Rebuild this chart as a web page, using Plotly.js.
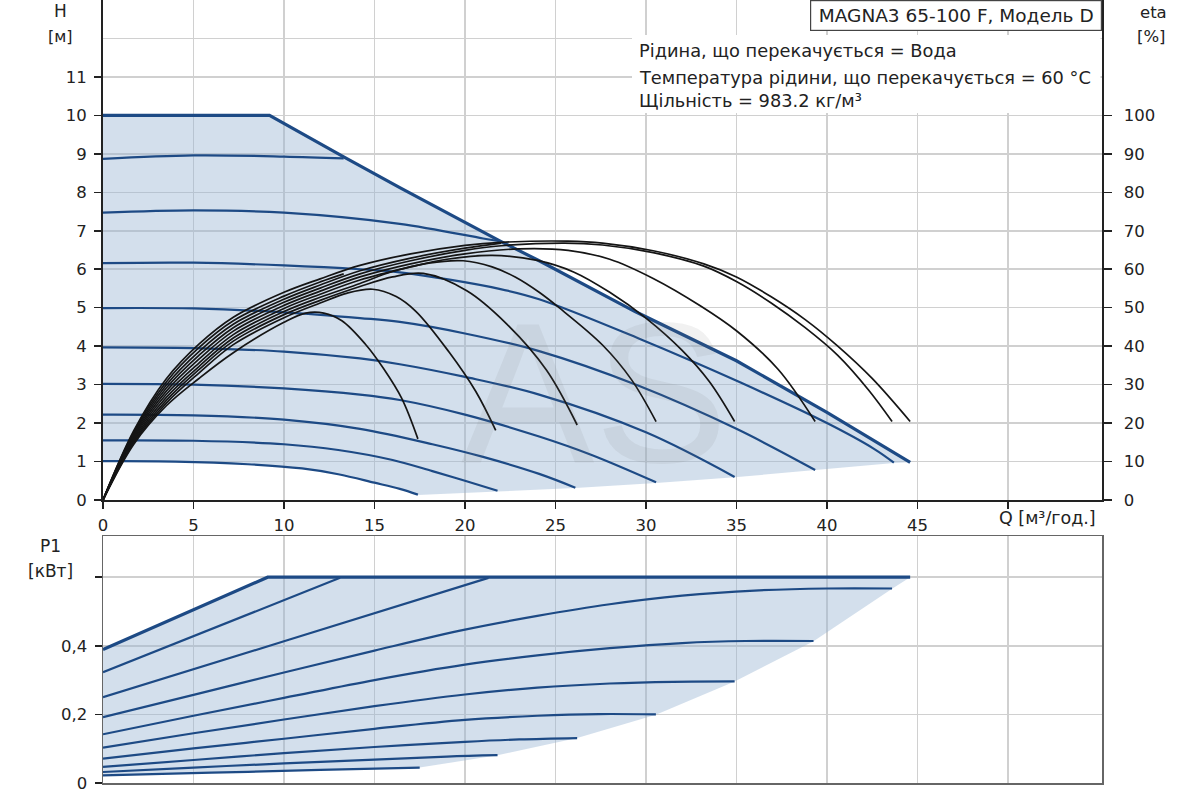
<!DOCTYPE html>
<html>
<head>
<meta charset="utf-8">
<script src="https://cdn.plot.ly/plotly-3.0.1.min.js"></script>
<style>html,body{margin:0;padding:0;background:#fff;}#chart{width:1200px;height:800px;}</style>
</head>
<body>
<div id="chart"></div>
<script>
// ---------- Q-H curves (Q in m3/h, H in m) ----------
const hMaxQ = [0, 9.2, 13.3, 16.4, 22, 24.1, 29.4, 35, 40, 44.6];
const hMaxH = [10, 10, 8.92, 8.12, 6.72, 6.22, 4.9, 3.62, 2.28, 0.98];
const s1Q = [0, 5, 10, 13.3];
const s1H = [8.87, 8.96, 8.93, 8.88];
const s2Q = [0, 5, 10, 16.4, 21, 22];
const s2H = [7.47, 7.53, 7.47, 7.18, 6.8, 6.72];
const s3Q = [0, 5, 10, 14.2, 16.4, 21.9, 24.1, 29.6, 35.2, 40, 42.6, 43.7];
const s3H = [6.16, 6.17, 6.1, 6.0, 5.92, 5.49, 5.22, 4.2, 3.06, 2.0, 1.33, 0.97];
const s4Q = [0, 5, 10, 14.2, 16.4, 20, 24.1, 29.6, 35, 39.35];
const s4H = [4.99, 4.98, 4.88, 4.73, 4.63, 4.33, 3.87, 2.97, 1.85, 0.78];
const s5Q = [0, 5, 10, 14.2, 16.4, 20, 24.1, 30, 34.9];
const s5H = [3.97, 3.95, 3.86, 3.68, 3.53, 3.2, 2.74, 1.76, 0.6];
const s6Q = [0, 5, 10, 14.2, 16.4, 20, 24.1, 27, 30.56];
const s6H = [3.02, 3.0, 2.9, 2.74, 2.6, 2.22, 1.65, 1.17, 0.46];
const s7Q = [0, 5, 10, 14.2, 18.2, 21, 24.1, 26.1];
const s7H = [2.22, 2.2, 2.09, 1.85, 1.45, 1.12, 0.68, 0.32];
const s8Q = [0, 5, 10, 13, 16, 18.2, 20, 21.8];
const s8H = [1.55, 1.54, 1.45, 1.3, 1.04, 0.75, 0.5, 0.24];
const s9Q = [0, 4, 8, 11, 13, 15, 16.4, 17.4];
const s9H = [1.01, 1.0, 0.93, 0.82, 0.67, 0.45, 0.29, 0.14];
// lower edge of the shaded operating area (from right to left)
const hBndQ = [44.6, 43.7, 39.35, 34.9, 30.56, 26.1, 21.8, 17.4];
const hBndH = [0.98, 0.96, 0.77, 0.59, 0.44, 0.31, 0.22, 0.13];

// ---------- efficiency curves (eta, %) ----------
const eAQ = [0, 1.7, 3.5, 5.3, 7.2, 10, 12, 14.2, 17, 20, 22, 25.7, 27.6, 30.4, 33.2, 35, 36.9, 38.8, 40.6, 42.5, 44.6];
const eAE = [0, 18, 31.5, 40.5, 47.5, 54, 57.5, 61, 64, 66.2, 67, 67.3, 66.8, 64.8, 61.4, 58, 52.9, 46.9, 40, 31.6, 20.4];
const eIQ = [0, 1.7, 3.5, 5.3, 7.2, 10, 12, 13.3];
const eIE = [0, 17.7, 30.7, 39.6, 46.6, 53, 56.7, 58.8];
const eJQ = [0, 1.7, 3.5, 5.3, 7.2, 10, 12, 14.2, 17, 20, 22];
const eJE = [0, 17.3, 29.9, 38.6, 45.7, 52.2, 55.9, 59.6, 62.9, 65.5, 66.8];
const eBQ = [0, 1.7, 3.5, 5.3, 7.2, 10, 12, 14.2, 17, 20, 22, 25.5, 27.6, 30.4, 33.2, 35, 36.9, 38.8, 40.6, 42.3, 43.6];
const eBE = [0, 16.9, 29.1, 37.6, 44.8, 51.4, 55.1, 58.8, 62.2, 64.9, 66.1, 66.8, 66.3, 64.3, 60.8, 56.8, 51.3, 44.8, 37.6, 28.6, 20.4];
const eCQ = [0, 1.7, 3.5, 5.3, 7.2, 10, 12, 14.2, 17, 20, 23, 25.7, 28, 30.4, 33, 35, 37.3, 39.35];
const eCE = [0, 16.5, 28.3, 36.6, 43.9, 50.6, 54.3, 58, 61.4, 64, 65.3, 64.9, 62.6, 57.6, 50.5, 44, 34, 20.4];
const eDQ = [0, 1.7, 3.5, 5.3, 7.2, 10, 12, 14.2, 17, 19, 21.5, 24, 26, 28, 30, 32, 33.5, 34.9];
const eDE = [0, 16.1, 27.5, 35.6, 43, 49.8, 53.5, 57.2, 60.6, 62.6, 63.6, 62.3, 59.3, 54, 47.3, 38.9, 30.8, 20.4];
const eEQ = [0, 1.7, 3.5, 5.3, 7.2, 10, 12, 14.2, 16, 18, 19.9, 21.5, 22.8, 24.1, 25.2, 27.6, 29.2, 30.56];
const eEE = [0, 15.7, 26.7, 34.7, 42.1, 49, 52.7, 56.3, 59.4, 61.6, 62.2, 60.6, 57.9, 54, 50, 40.3, 31.3, 20.4];
const eFQ = [0, 1.7, 3.5, 5.3, 7.2, 10, 12, 14.2, 16, 17.7, 20.1, 22.3, 24.5, 26.2];
const eFE = [0, 15.3, 25.9, 33.9, 41.3, 48.2, 51.9, 55.5, 58, 58.9, 54.4, 45.8, 33.8, 19.5];
const eGQ = [0, 1.7, 3.5, 5.3, 7.2, 10, 12, 13.5, 14.9, 16.2, 17.3, 19.1, 20.6, 21.7];
const eGE = [0, 14.9, 25.2, 33, 40.4, 47.4, 51.2, 53.8, 54.8, 52.9, 49, 38.6, 28.2, 18.1];
const eHQ = [0, 1.7, 3.5, 5.3, 7.2, 10, 11.2, 12.2, 13.2, 14.5, 15.5, 16.5, 17.4];
const eHE = [0, 14.5, 24.5, 31.6, 38.3, 46.2, 48.6, 48.6, 46.6, 40.5, 34.2, 26.5, 15.9];

// ---------- power curves (P1, kW) ----------
const p1Q = [0, 9.1, 44.6];
const p1P = [0.389, 0.6, 0.6];
const p2Q = [0, 13.1];
const p2P = [0.323, 0.598];
const p3Q = [0, 10, 21.3];
const p3P = [0.25, 0.413, 0.598];
const p4Q = [0, 5, 10, 15, 20, 24, 28, 32, 36, 40, 43.6];
const p4P = [0.192, 0.257, 0.322, 0.386, 0.447, 0.487, 0.521, 0.546, 0.561, 0.567, 0.567];
const p5Q = [0, 5, 10, 15, 20, 24, 28, 32, 35.5, 39.26];
const p5P = [0.142, 0.196, 0.248, 0.3, 0.345, 0.372, 0.393, 0.408, 0.414, 0.414];
const p6Q = [0, 5, 10, 15, 20, 24, 28, 31.5, 34.9];
const p6P = [0.103, 0.145, 0.185, 0.224, 0.258, 0.278, 0.29, 0.295, 0.296];
const p7Q = [0, 5, 10, 15, 20, 24, 27.4, 30.55];
const p7P = [0.071, 0.101, 0.129, 0.158, 0.184, 0.196, 0.201, 0.2];
const p8Q = [0, 5, 10, 15, 20, 23, 26.2];
const p8P = [0.047, 0.067, 0.087, 0.105, 0.12, 0.127, 0.131];
const p9Q = [0, 5, 10, 15, 19, 21.8];
const p9P = [0.032, 0.045, 0.057, 0.068, 0.077, 0.081];
const p10Q = [0, 6, 12, 17.5];
const p10P = [0.022, 0.03, 0.038, 0.045];
const pBndQ = [44.6, 43.6, 39.26, 34.9, 30.55, 26.2, 21.8, 17.5];
const pBndP = [0.6, 0.566, 0.413, 0.296, 0.199, 0.131, 0.081, 0.045];

// ---------- axes ticks ----------
const qTicks = [0, 5, 10, 15, 20, 25, 30, 35, 40, 45, 50];
const qTickText = ['0', '5', '10', '15', '20', '25', '30', '35', '40', '45', ''];
const hTicks = [0, 1, 2, 3, 4, 5, 6, 7, 8, 9, 10, 11];
const etaTicks = [0, 10, 20, 30, 40, 50, 60, 70, 80, 90, 100];
const pTicks = [0, 0.2, 0.4, 0.6];
const pTickText = ['0', '0,2', '0,4', ''];

const BLUE = '#1d4a85';
const BLACK = '#151515';
const SHADE = 'rgba(150,178,210,0.42)';
const GRID = '#d0d0d0';
const FONT = 'DejaVu Sans, Liberation Sans, Arial, sans-serif';

const rev = a => a.slice().reverse();
const traces = [];

// shaded operating area (H)
traces.push({
  x: hMaxQ.concat(hBndQ, rev(s9Q)), y: hMaxH.concat(hBndH, rev(s9H)),
  xaxis: 'x', yaxis: 'y', mode: 'lines', fill: 'toself', fillcolor: SHADE,
  line: {width: 0}, hoverinfo: 'skip'
});
[[s1Q, s1H], [s2Q, s2H], [s3Q, s3H], [s4Q, s4H], [s5Q, s5H], [s6Q, s6H], [s7Q, s7H], [s8Q, s8H], [s9Q, s9H]].forEach(c => {
  traces.push({x: c[0], y: c[1], xaxis: 'x', yaxis: 'y', mode: 'lines',
    line: {color: BLUE, width: 2.2, shape: 'spline', smoothing: 1}, hoverinfo: 'skip'});
});
traces.push({x: hMaxQ, y: hMaxH, xaxis: 'x', yaxis: 'y', mode: 'lines',
  line: {color: BLUE, width: 3.2}, hoverinfo: 'skip'});

// efficiency curves
[[eAQ, eAE], [eIQ, eIE], [eJQ, eJE], [eBQ, eBE], [eCQ, eCE], [eDQ, eDE], [eEQ, eEE], [eFQ, eFE], [eGQ, eGE], [eHQ, eHE]].forEach(c => {
  traces.push({x: c[0], y: c[1], xaxis: 'x', yaxis: 'y2', mode: 'lines',
    line: {color: BLACK, width: 1.7, shape: 'spline', smoothing: 1}, hoverinfo: 'skip'});
});

// shaded area (P1)
traces.push({
  x: p1Q.concat(pBndQ, rev(p10Q)), y: p1P.concat(pBndP, rev(p10P)),
  xaxis: 'x2', yaxis: 'y3', mode: 'lines', fill: 'toself', fillcolor: SHADE,
  line: {width: 0}, hoverinfo: 'skip'
});
[[p2Q, p2P], [p3Q, p3P], [p4Q, p4P], [p5Q, p5P], [p6Q, p6P], [p7Q, p7P], [p8Q, p8P], [p9Q, p9P], [p10Q, p10P]].forEach(c => {
  traces.push({x: c[0], y: c[1], xaxis: 'x2', yaxis: 'y3', mode: 'lines',
    line: {color: BLUE, width: 2.2, shape: 'spline', smoothing: 1}, hoverinfo: 'skip'});
});
traces.push({x: p1Q, y: p1P, xaxis: 'x2', yaxis: 'y3', mode: 'lines',
  line: {color: BLUE, width: 3.2}, hoverinfo: 'skip'});

const L = 103, PW = 999, PH = 783;
const px = v => (v - L) / PW;
const py = v => (PH - v) / PH;
const tf = {family: FONT, size: 16.5, color: '#222'};

const layout = {
  width: 1200, height: 800,
  margin: {l: 103, r: 98, t: 0, b: 17},
  paper_bgcolor: '#fff', plot_bgcolor: '#fff',
  showlegend: false,
  font: {family: FONT, size: 17, color: '#222'},
  xaxis: {
    domain: [0, 1], range: [0, 55.2], anchor: 'y',
    tickmode: 'array', tickvals: qTicks, ticktext: qTickText,
    ticks: 'outside', ticklen: 7, tickwidth: 1.5, tickcolor: '#222',
    showline: true, linecolor: '#222', linewidth: 2,
    showgrid: true, gridcolor: GRID, gridwidth: 1.5, zeroline: false,
    tickfont: tf, ticklabelstandoff: 2
  },
  yaxis: {
    domain: [py(500), 1], range: [0, 13], anchor: 'x',
    tickmode: 'array', tickvals: hTicks,
    ticks: 'outside', ticklen: 7, tickwidth: 1.5, tickcolor: '#222',
    showline: true, linecolor: '#222', linewidth: 2,
    showgrid: true, gridcolor: GRID, gridwidth: 1.5, zeroline: false,
    minor: {tickmode: 'array', tickvals: [12, 13], showgrid: true, gridcolor: GRID, gridwidth: 1.5, ticks: ''},
    tickfont: tf, ticklabelstandoff: 4
  },
  yaxis2: {
    overlaying: 'y', side: 'right', anchor: 'x', range: [0, 130],
    tickmode: 'array', tickvals: etaTicks,
    ticks: 'outside', ticklen: 8, tickwidth: 1.5, tickcolor: '#222',
    showline: true, linecolor: '#222', linewidth: 1.5,
    showgrid: false, zeroline: false, tickfont: tf, ticklabelstandoff: 9
  },
  xaxis2: {
    domain: [0, 1], range: [0, 55.2], anchor: 'y3',
    tickmode: 'array', tickvals: qTicks, showticklabels: false, ticks: '',
    showline: true, mirror: true, linecolor: '#666', linewidth: 1.5,
    showgrid: true, gridcolor: GRID, gridwidth: 1.5, zeroline: false
  },
  yaxis3: {
    domain: [0, py(536)], range: [0, 0.72], anchor: 'x2',
    tickmode: 'array', tickvals: pTicks, ticktext: pTickText,
    ticks: 'outside', ticklen: 7, tickwidth: 1.5, tickcolor: '#222',
    showline: true, mirror: true, linecolor: '#666', linewidth: 1.5,
    showgrid: true, gridcolor: GRID, gridwidth: 1.5, zeroline: false,
    tickfont: tf, ticklabelstandoff: 4
  },
  shapes: [
    {type: 'rect', xref: 'paper', yref: 'paper', x0: px(632), x1: px(1100.5), y0: py(113), y1: py(35),
      fillcolor: '#fff', line: {width: 0}, layer: 'above'}
  ],
  annotations: [
    {text: 'AS', xref: 'paper', yref: 'paper', x: px(594), y: py(392), xanchor: 'center', yanchor: 'middle',
      showarrow: false, font: {family: 'Liberation Sans, Arial, sans-serif', size: 200, color: 'rgba(120,120,120,0.10)'}},
    {text: 'H', xref: 'paper', yref: 'paper', x: px(60), y: py(11), xanchor: 'center', yanchor: 'middle', showarrow: false, font: {size: 17}},
    {text: '[м]', xref: 'paper', yref: 'paper', x: px(60), y: py(36), xanchor: 'center', yanchor: 'middle', showarrow: false, font: {size: 16}},
    {text: 'eta', xref: 'paper', yref: 'paper', x: px(1153), y: py(12), xanchor: 'center', yanchor: 'middle', showarrow: false, font: {size: 16.5}},
    {text: '[%]', xref: 'paper', yref: 'paper', x: px(1151), y: py(36), xanchor: 'center', yanchor: 'middle', showarrow: false, font: {size: 16.5}},
    {text: 'P1', xref: 'paper', yref: 'paper', x: px(50), y: py(546), xanchor: 'center', yanchor: 'middle', showarrow: false, font: {size: 17}},
    {text: '[кВт]', xref: 'paper', yref: 'paper', x: px(50), y: py(571), xanchor: 'center', yanchor: 'middle', showarrow: false, font: {size: 17}},
    {text: 'Q [м³/год.]', xref: 'paper', yref: 'paper', x: px(997), y: py(518), xanchor: 'left', yanchor: 'middle', showarrow: false, font: {size: 17.5}},
    {text: 'MAGNA3 65-100 F, Модель D', xref: 'paper', yref: 'paper', x: 1, y: 1, xanchor: 'right', yanchor: 'top',
      showarrow: false, width: 286, height: 25, borderpad: 2, bordercolor: '#444', borderwidth: 1.2, bgcolor: '#fff', font: {size: 18.5}},
    {text: 'Рідина, що перекачується = Вода', xref: 'paper', yref: 'paper', x: px(637), y: py(51), xanchor: 'left', yanchor: 'middle', showarrow: false, font: {size: 17.8}},
    {text: 'Температура рідини, що перекачується = 60 °C', xref: 'paper', yref: 'paper', x: px(637), y: py(77), xanchor: 'left', yanchor: 'middle', showarrow: false, font: {size: 17.8}},
    {text: 'Щільність = 983.2 кг/м³', xref: 'paper', yref: 'paper', x: px(637), y: py(100), xanchor: 'left', yanchor: 'middle', showarrow: false, font: {size: 17.8}}
  ]
};

Plotly.newPlot('chart', traces, layout, {staticPlot: true, displayModeBar: false});
</script>
</body>
</html>
